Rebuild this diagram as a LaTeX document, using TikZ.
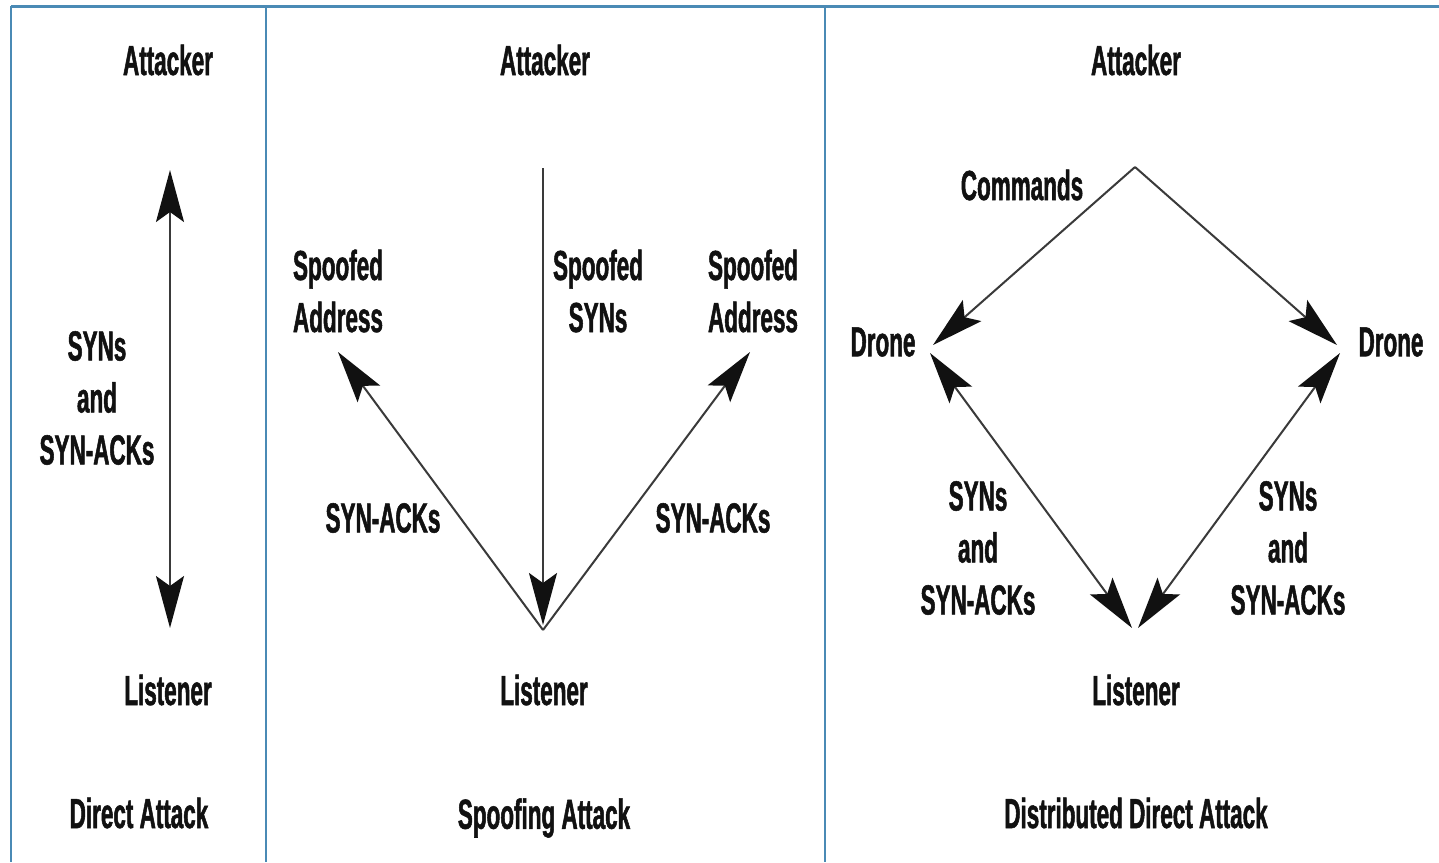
\documentclass[tikz,border=0pt]{standalone}
\usepackage{fontspec}
\newfontfamily\cond{Liberation Sans}[FakeStretch=0.535, FakeBold=1.2]
\usetikzlibrary{arrows.meta}
\definecolor{frame}{HTML}{4A8AB5}
\definecolor{ink}{HTML}{111111}
\definecolor{wire}{HTML}{3A3A3A}
\tikzset{
  lbl/.style={inner sep=0pt, align=center, text=ink, font=\cond\bfseries\fontsize{42}{52}\selectfont},
  big/.tip={Stealth[length=52pt, width=28pt, inset=10pt, color=ink]},
  wirestyle/.style={draw=wire, line width=2pt, arrows={-big}},
  wire2/.style={draw=wire, line width=2pt, arrows={big-big}},
  framel/.style={draw=frame, line width=2.2pt},
}
\begin{document}
\begin{tikzpicture}[x=1pt, y=-1pt]
\useasboundingbox (0,0) rectangle (1439,862);
\fill[white] (0,0) rectangle (1439,862);
% frame
\coordinate (tl) at (11,6);
\coordinate (tr) at (1439,6);
\coordinate (bl) at (11,862);
\coordinate (d1t) at (266,6);
\coordinate (d1b) at (266,862);
\coordinate (d2t) at (825,6);
\coordinate (d2b) at (825,862);
\draw[framel, line width=3pt] (tl) -- (tr);
\draw[framel] (tl) -- (bl);
\draw[framel] (d1t) -- (d1b);
\draw[framel] (d2t) -- (d2b);

% Panel 1
\node[lbl] (a1) at (168,60) {Attacker};
\node[lbl] (s1) at (97,398) {SYNs\\and\\SYN-ACKs};
\node[lbl] (l1) at (168,690) {Listener};
\node[lbl] (t1) at (139,813) {Direct Attack};
\coordinate (p1a) at (170,170);
\coordinate (p1b) at (170,628);
\draw[wire2] (p1a) -- (p1b);

% Panel 2
\node[lbl] (a2) at (545,60) {Attacker};
\node[lbl] (sa2l) at (338,291) {Spoofed\\Address};
\node[lbl] (ss2) at (598,291) {Spoofed\\SYNs};
\node[lbl] (sa2r) at (753,291) {Spoofed\\Address};
\node[lbl] (k2l) at (383,518) {SYN-ACKs};
\node[lbl] (k2r) at (713,518) {SYN-ACKs};
\node[lbl] (l2) at (544,690) {Listener};
\node[lbl] (t2) at (544,818) {Spoofing Attack};
\coordinate (p2top) at (543,168);
\coordinate (p2dn) at (543,625);
\coordinate (p2apex) at (543,630);
\coordinate (p2l) at (338,352);
\coordinate (p2r) at (750,352);
\draw[wirestyle] (p2top) -- (p2dn);
\draw[wirestyle] (p2apex) -- (p2l);
\draw[wirestyle] (p2apex) -- (p2r);

% Panel 3
\node[lbl] (a3) at (1136,60) {Attacker};
\node[lbl] (c3) at (1022,185) {Commands};
\node[lbl] (d3l) at (883,342) {Drone};
\node[lbl] (d3r) at (1391,342) {Drone};
\node[lbl] (s3l) at (978,548) {SYNs\\and\\SYN-ACKs};
\node[lbl] (s3r) at (1288,548) {SYNs\\and\\SYN-ACKs};
\node[lbl] (l3) at (1136,690) {Listener};
\node[lbl] (t3) at (1136,813) {Distributed Direct Attack};
\coordinate (p3top) at (1135,167);
\coordinate (p3cl) at (933,345);
\coordinate (p3cr) at (1337,345);
\coordinate (p3sl) at (930,353);
\coordinate (p3sr) at (1340,353);
\coordinate (p3bl) at (1132,628);
\coordinate (p3br) at (1138,628);
\draw[wirestyle] (p3top) -- (p3cl);
\draw[wirestyle] (p3top) -- (p3cr);
\draw[wire2] (p3sl) -- (p3bl);
\draw[wire2] (p3sr) -- (p3br);
\end{tikzpicture}
\end{document}
